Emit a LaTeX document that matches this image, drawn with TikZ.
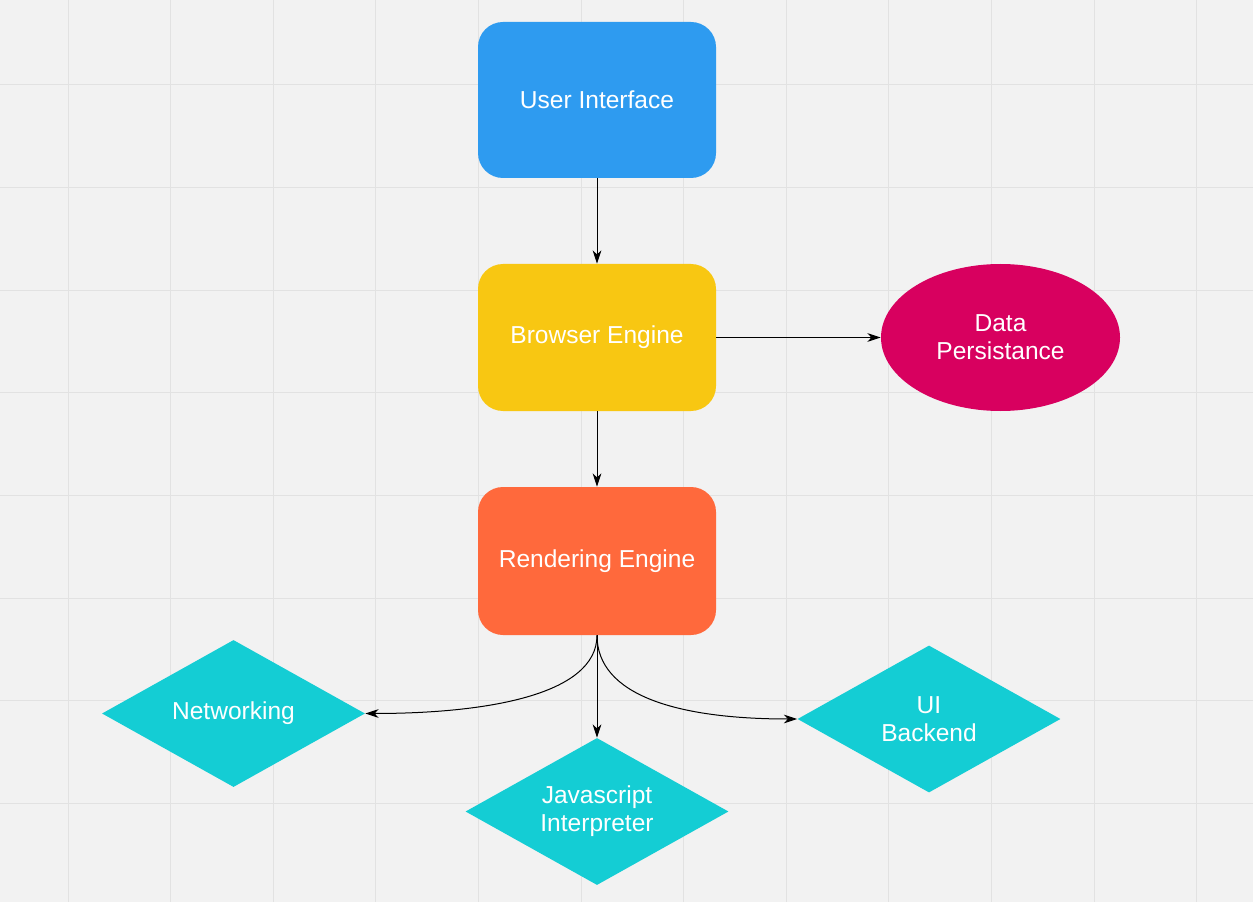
\documentclass[tikz,border=0pt]{standalone}
\usepackage{fontspec}
\setmainfont{Liberation Sans}
\usetikzlibrary{shapes.geometric, arrows.meta}
\definecolor{bgGray}{RGB}{242, 242, 242}
\definecolor{gridGray}{RGB}{226, 226, 226}
\definecolor{uiBlue}{RGB}{46, 155, 240}
\definecolor{engYellow}{RGB}{248, 199, 18}
\definecolor{rendOrange}{RGB}{255, 105, 60}
\definecolor{dataPink}{RGB}{216, 0, 95}
\definecolor{subCyan}{RGB}{20, 205, 212}
\newlength{\px}\setlength{\px}{0.75pt}
\newcommand{\lbl}{\fontsize{18.4}{21}\selectfont}
\tikzset{
  Grid/.style = {draw=gridGray, line width=1\px},
  Box/.style  = {rounded corners=25\px, minimum width=238\px, inner sep=0pt,
                 text=white, font=\lbl, align=center},
  Oval/.style = {ellipse, fill=dataPink, minimum width=239\px, minimum height=147\px,
                 inner sep=0pt, text=white, font=\lbl, align=center},
  Dia/.style  = {diamond, aspect=1.8, fill=subCyan, minimum width=263\px,
                 minimum height=147\px, inner sep=0pt, text=white, font=\lbl, align=center},
  Arr/.style  = {-{Stealth[length=10pt, width=6.5pt, inset=3pt]}, line width=1\px, black},
}

\begin{document}
\begin{tikzpicture}[x=0.75pt, y=-0.75pt]

% background and grid
\fill[bgGray] (0,0) rectangle (1253,902);
\useasboundingbox (0,0) rectangle (1253,902);
\foreach \i in {0,...,11}
    \draw[Grid] (68+\i*102.6, 0) -- (68+\i*102.6, 902);
\foreach \j in {0,...,7}
    \draw[Grid] (0, 85+\j*102.6) -- (1253, 85+\j*102.6);

% main stack
\node[Box, fill=uiBlue, minimum height=156\px]     (ui) at (597, 100)   {User Interface};
\node[Box, fill=engYellow, minimum height=147\px]  (be) at (597, 337.5) {Browser Engine};
\node[Box, fill=rendOrange, minimum height=148\px] (re) at (597, 561)   {Rendering Engine};
\node[Oval] (dp) at (1000.5, 337.5) {Data\\Persistance};

% subsystems
\node[Dia] (net) at (233.5, 713.5) {Networking};
\node[Dia] (js)  at (597, 811.5)   {Javascript\\Interpreter};
\node[Dia] (uib) at (929, 719)     {UI\\Backend};

% connectors
\draw[Arr] (ui.south) -- (be.north);
\draw[Arr] (be.south) -- (re.north);
\draw[Arr] (be.east) -- (dp.west);
\draw[Arr] (re.south) -- (js.north);
\draw[Arr] (re.south) .. controls +(0,60) and +(120,0) .. (net.east);
\draw[Arr] (re.south) .. controls +(0,60) and +(-120,0) .. (uib.west);

\end{tikzpicture}
\end{document}
